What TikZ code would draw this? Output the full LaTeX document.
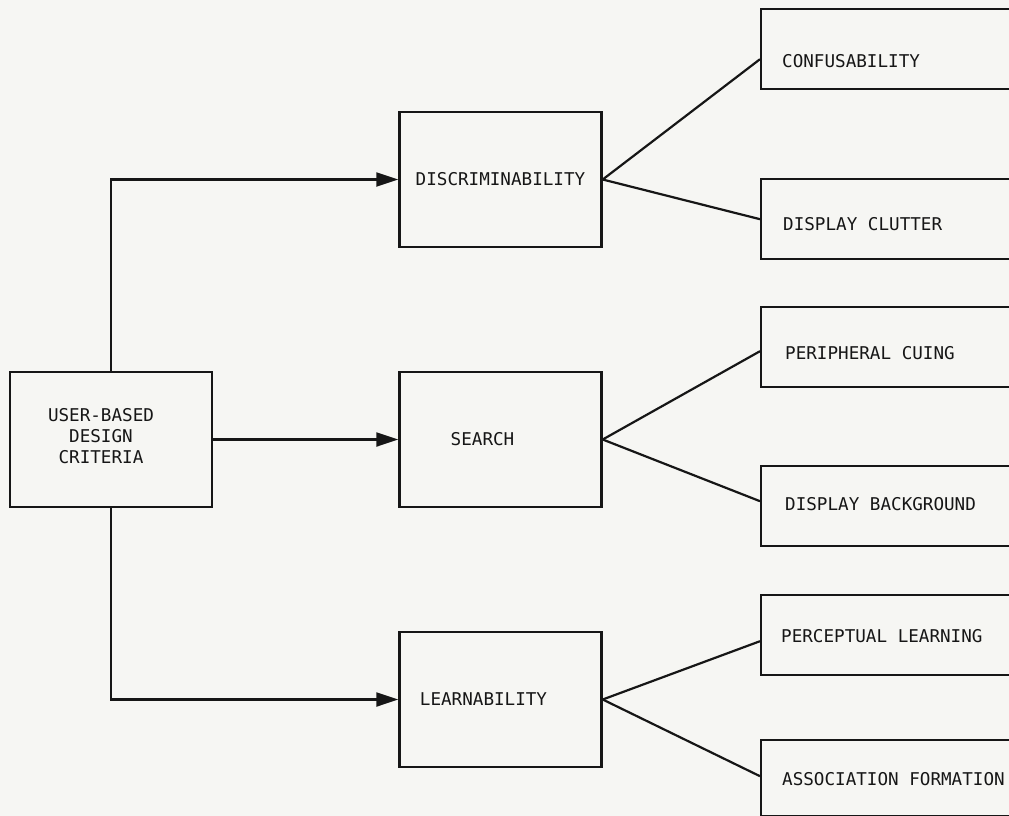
\documentclass[tikz,border=0pt]{standalone}
\usepackage{fontspec}
\setmonofont{DejaVu Sans Mono}
\usetikzlibrary{positioning,arrows.meta}
\definecolor{paper}{RGB}{246,246,243}
\definecolor{ink}{RGB}{22,22,22}

\tikzset{
  box/.style={draw=ink, line width=2.4pt, minimum width=202pt, minimum height=135pt},
  leaf/.style={draw=ink, line width=2.4pt, minimum width=290pt, minimum height=80pt, anchor=north west},
  wire/.style={draw=ink, line width=2.2pt},
  feed/.style={wire, -{Triangle[length=22pt,width=14pt]}},
}

\begin{document}
\begin{tikzpicture}[x=1pt, y=-1pt, font=\ttfamily\fontsize{17.6}{21}\selectfont, text=ink,
    every label/.style={inner sep=0pt, align=center}]
    \useasboundingbox (0,0) rectangle (1009,816);
    \clip (0,0) rectangle (1009,816);
    \fill[paper] (0,0) rectangle (1009,816);

    % criteria and the three main headings
    \node[box, label={[xshift=-10pt, yshift=3pt]center:USER-BASED\\DESIGN\\CRITERIA}] (user) at (111,439.5) {};
    \node[box, label=center:DISCRIMINABILITY] (disc) at (500.5,179.5) {};
    \node[box, label={[xshift=-18pt]center:SEARCH}] (search) at (500.5,439.5) {};
    \node[box, label={[xshift=-17pt]center:LEARNABILITY}] (learn) at (500.5,699.5) {};

    % sub-factors
    \node[leaf, label={[anchor=west, xshift=22pt, yshift=-12pt]west:CONFUSABILITY}] (conf) at (760,8) {};
    \node[leaf, label={[anchor=west, xshift=23pt, yshift=-5pt]west:DISPLAY CLUTTER}] (clutter) at (760,178) {};
    \node[leaf, label={[anchor=west, xshift=25pt, yshift=-6pt]west:PERIPHERAL CUING}] (cuing) at (760,306) {};
    \node[leaf, label={[anchor=west, xshift=25pt, yshift=2pt]west:DISPLAY BACKGROUND}] (backgr) at (760,465) {};
    \node[leaf, label={[anchor=west, xshift=21pt, yshift=-1pt]west:PERCEPTUAL LEARNING}] (perc) at (760,594) {};
    \node[leaf, minimum height=76pt, label={[anchor=west, xshift=22pt, yshift=-1pt]west:ASSOCIATION FORMATION}] (assoc) at (760,739) {};

    \draw[feed] (user.north) |- (disc.west);
    \draw[feed] (user.east) -- (search.west);
    \draw[feed] (user.south) |- (learn.west);

    \draw[wire] (disc.east) -- ([yshift=-10pt]conf.west);
    \draw[wire] (disc.east) -- (clutter.west);
    \draw[wire] (search.east) -- ([yshift=-4pt]cuing.west);
    \draw[wire] (search.east) -- ([yshift=5pt]backgr.west);
    \draw[wire] (learn.east) -- ([yshift=-6pt]perc.west);
    \draw[wire] (learn.east) -- ([yshift=2pt]assoc.west);
\end{tikzpicture}
\end{document}
